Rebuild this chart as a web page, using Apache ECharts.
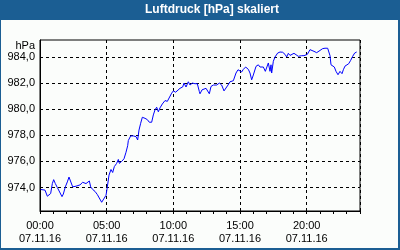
<!DOCTYPE html>
<html>
<head>
<meta charset="utf-8">
<script src="https://cdn.jsdelivr.net/npm/echarts@6/dist/echarts.min.js"></script>
<style>
html,body{margin:0;padding:0;background:#fbfdfb;}
#c{width:400px;height:250px;}
</style>
</head>
<body>
<div id="c"></div>
<script>
const chartTitle = 'Luftdruck [hPa] skaliert';
const unitName = 'hPa';
const dateLabel = '07.11.16';
const yTickValues = [974, 976, 978, 980, 982, 984];
const xTickHours = [0, 5, 10, 15, 20];
const hours = [0.05,0.2,0.375,0.55,0.7,0.8,0.925,1.025,1.15,1.3,1.45,1.65,1.75,1.9,2.05,2.175,2.3,2.45,2.55,2.7,2.825,3.0,3.2,3.325,3.45,3.575,3.7,3.8,3.95,4.125,4.3,4.45,4.625,4.75,4.95,5.05,5.175,5.325,5.45,5.575,5.75,5.875,5.95,6.125,6.3,6.45,6.575,6.625,6.8,7.0,7.2,7.325,7.425,7.55,7.675,7.875,8.05,8.2,8.375,8.5,8.625,8.75,8.875,9.0,9.175,9.375,9.55,9.7,9.875,10.0,10.175,10.325,10.5,10.7,10.8,10.95,11.125,11.25,11.425,11.625,11.8,11.95,12.0,12.15,12.3,12.45,12.55,12.7,12.825,13.0,13.25,13.45,13.625,13.8,13.95,14.1,14.25,14.5,14.7,14.85,15.0,15.125,15.25,15.425,15.625,15.75,15.875,16.0,16.2,16.375,16.5,16.625,16.75,16.9,17.0,17.125,17.25,17.325,17.375,17.5,17.625,17.825,18.0,18.2,18.375,18.5,18.625,18.75,18.875,19.05,19.2,19.375,19.5,19.625,19.8,19.95,20.05,20.25,20.375,20.55,20.75,20.875,21.0,21.2,21.375,21.575,21.7,21.75,21.825,21.95,22.075,22.2,22.35,22.5,22.65,22.75,22.875,23.0,23.15,23.3,23.45,23.6,23.75];
const pressure = [973.85,974.0,973.8,973.33,973.23,973.54,974.3,974.6,974.3,974.0,973.9,973.3,973.5,974.05,974.43,974.8,974.7,974.05,973.9,974.1,973.95,974.2,974.4,974.5,974.3,974.4,974.5,974.05,973.85,973.7,973.46,973.33,972.87,972.95,973.4,974.05,974.95,975.38,975.15,975.6,975.85,976.15,975.85,976.0,976.2,976.7,977.2,977.6,977.95,977.95,977.9,977.64,978.4,978.92,979.38,979.3,979.2,979.0,979.0,979.56,979.95,980.15,979.8,980.1,980.4,980.66,980.6,980.7,981.23,981.4,981.3,981.23,981.6,981.7,982.0,981.7,982.1,981.85,982.0,981.95,981.95,981.35,981.18,981.48,981.4,981.6,981.45,981.18,981.74,981.85,981.85,982.0,981.85,981.4,981.5,981.85,982.1,982.18,982.77,983.02,982.9,982.85,983.05,983.23,983.05,982.77,982.25,982.62,983.28,983.4,983.23,983.36,983.23,982.9,983.05,983.54,982.9,983.4,982.77,983.67,984.0,984.3,984.38,984.36,984.2,984.0,984.28,984.12,984.0,984.28,984.33,984.05,983.95,984.1,984.1,984.05,984.2,984.56,984.6,984.43,984.33,984.25,984.5,984.64,984.67,984.67,984.56,984.1,983.4,983.28,983.23,982.9,982.64,982.9,982.72,983.02,983.3,983.28,983.48,983.74,984.05,984.3,984.38];

const seriesData = hours.map((h, i) => [h, pressure[i]]);
const FONT = 'Liberation Sans';
const pad = n => (n < 10 ? '0' : '') + n;

const chart = echarts.init(document.getElementById('c'), null, {renderer: 'canvas'});
chart.setOption({
  animation: false,
  backgroundColor: '#fbfdfb',
  graphic: [
    {type: 'rect', z: -1, silent: true, shape: {x: 0, y: 0, width: 400, height: 20}, style: {fill: '#1b5e93'}},
    {type: 'rect', z: -1, silent: true, shape: {x: 0, y: 0, width: 1, height: 250}, style: {fill: '#1b5e93'}},
    {type: 'rect', z: -1, silent: true, shape: {x: 398, y: 0, width: 2, height: 250}, style: {fill: '#1b5e93'}},
    {type: 'rect', z: -1, silent: true, shape: {x: 0, y: 248, width: 400, height: 2}, style: {fill: '#1b5e93'}}
  ],
  title: {
    text: chartTitle,
    left: 145, top: 3, padding: 0,
    textStyle: {color: '#ffffff', fontFamily: FONT, fontWeight: 'bold', fontSize: 12, lineHeight: 14}
  },
  grid: {left: 40, right: 40, top: 40, bottom: 39, show: true, borderColor: '#000', borderWidth: 1, backgroundColor: 'transparent'},
  xAxis: [
    {
      type: 'value', min: 0, max: 24, interval: 1,
      axisLine: {show: true, lineStyle: {color: '#000', width: 1}},
      axisTick: {show: true, inside: false, length: 3, lineStyle: {color: '#000', width: 1}},
      splitLine: {show: false},
      axisLabel: {show: false}
    },
    {
      type: 'value', min: 0, max: 24, interval: 5, position: 'bottom', offset: 0,
      axisLine: {show: false},
      axisTick: {show: false},
      splitLine: {show: true, lineStyle: {color: '#000', type: [3, 3], width: 1}},
      axisLabel: {
        color: '#000', fontFamily: FONT, fontSize: 11, lineHeight: 13, margin: 8,
        customValues: xTickHours,
        formatter: v => pad(v) + ':00\n' + dateLabel
      }
    }
  ],
  yAxis: {
    type: 'value', min: 972.2, max: 985.3,
    name: unitName, nameLocation: 'end', nameGap: -6,
    nameTextStyle: {color: '#000', fontFamily: FONT, fontSize: 11, align: 'right', verticalAlign: 'middle', padding: [0, 5, 0, 0]},
    axisLine: {show: true, lineStyle: {color: '#000', width: 1}},
    axisTick: {show: false, customValues: yTickValues},
    splitLine: {show: true, lineStyle: {color: '#000', type: [3, 3], width: 1}},
    axisLabel: {
      color: '#000', fontFamily: FONT, fontSize: 11, margin: 5,
      customValues: yTickValues,
      formatter: v => v.toFixed(1).replace('.', ',')
    }
  },
  series: [{
    type: 'line', xAxisIndex: 0, data: seriesData,
    showSymbol: false, symbol: 'none',
    lineStyle: {color: '#0000ff', width: 1},
    clip: true
  }]
});
</script>
</body>
</html>
